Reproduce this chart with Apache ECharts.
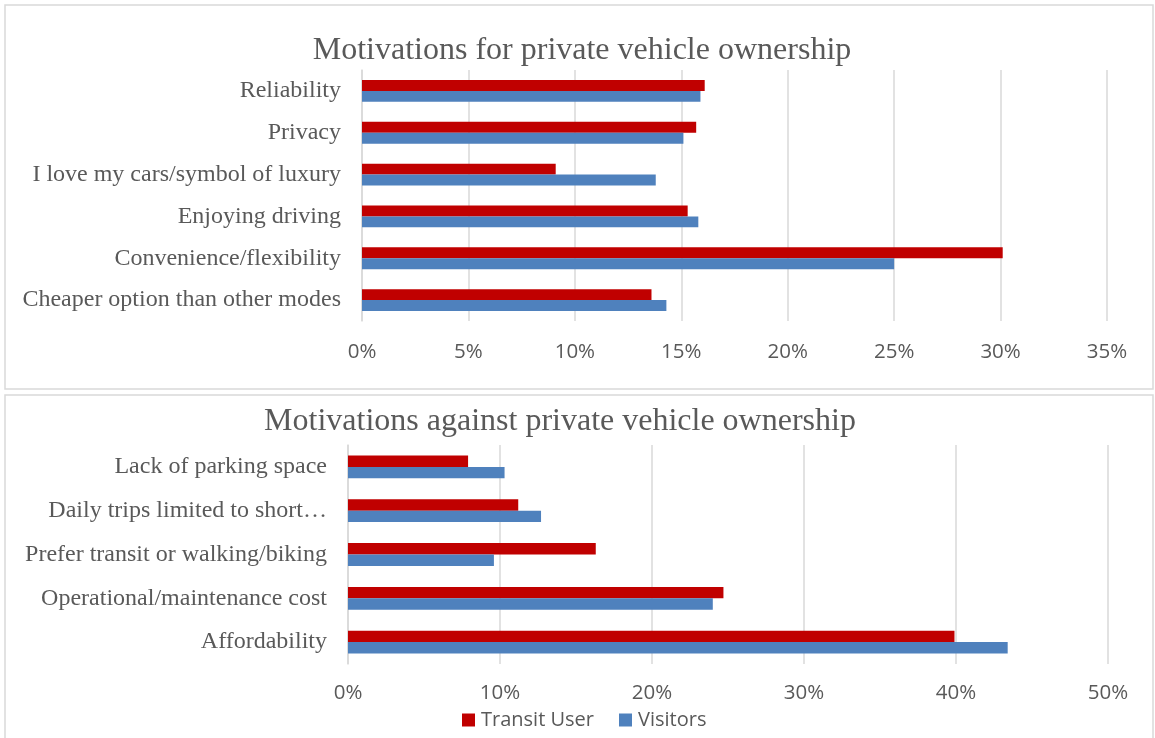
<!DOCTYPE html>
<html>
<head>
<meta charset="utf-8">
<script src="https://cdn.jsdelivr.net/npm/echarts@6/dist/echarts.min.js"></script>
<style>
  html, body { margin: 0; padding: 0; background: #fff; }
  #chart { width: 1155px; height: 738px; }
</style>
</head>
<body>
<div id="chart"></div>
<script>
// Motivations for private vehicle ownership (percent of respondents)
const forCategories = [
  'Reliability',
  'Privacy',
  'I love my cars/symbol of luxury',
  'Enjoying driving',
  'Convenience/flexibility',
  'Cheaper option than other modes'
];
const forTransit = [16.1, 15.7, 9.1, 15.3, 30.1, 13.6];
const forVisitors = [15.9, 15.1, 13.8, 15.8, 25.0, 14.3];

// Motivations against private vehicle ownership (percent of respondents)
const againstCategories = [
  'Lack of parking space',
  'Daily trips limited to short\u2026',
  'Prefer transit or walking/biking',
  'Operational/maintenance cost',
  'Affordability'
];
const againstTransit = [7.9, 11.2, 16.3, 24.7, 39.9];
const againstVisitors = [10.3, 12.7, 9.6, 24.0, 43.4];

const seriesNames = ['Transit User', 'Visitors'];
const colors = ['#C00000', '#4F81BD'];

const textGray = '#595959';
const gridGray = '#d9d9d9';
const serif = '"Liberation Serif", "Times New Roman", serif';
const sans = '"Open Sans", "Liberation Sans", sans-serif';

function valueAxis(gridIndex, max, interval, margin) {
  return {
    type: 'value', gridIndex, min: 0, max, interval,
    axisLine: { show: false }, axisTick: { show: false },
    splitLine: { lineStyle: { color: gridGray, width: 1.5 } },
    axisLabel: { formatter: '{value}%', color: textGray, fontFamily: sans, fontSize: 20.5, margin }
  };
}

function categoryAxis(gridIndex, data, margin) {
  return {
    type: 'category', gridIndex, data, inverse: true,
    axisLine: { show: true, lineStyle: { color: gridGray, width: 1.5 } },
    axisTick: { show: false },
    axisLabel: {
      color: textGray, fontFamily: serif, fontSize: 24, margin,
      padding: [2, 0, 0, 0]
    }
  };
}
function barSeries(name, idx, axisIdx, data) {
  return {
    type: 'bar', name, data,
    xAxisIndex: axisIdx, yAxisIndex: axisIdx,
    barGap: '0%', barCategoryGap: '48%',
    itemStyle: { color: colors[idx] },
    emphasis: { disabled: true }
  };
}

const chart = echarts.init(document.getElementById('chart'), null, { renderer: 'canvas' });
chart.setOption({
  animation: false,
  backgroundColor: '#fff',
  color: colors,
  graphic: [
    { type: 'rect', shape: { x: 5, y: 5, width: 1148, height: 384 },
      style: { fill: 'none', stroke: gridGray, lineWidth: 1.5 }, silent: true },
    { type: 'rect', shape: { x: 5, y: 395, width: 1148, height: 370 },
      style: { fill: 'none', stroke: gridGray, lineWidth: 1.5 }, silent: true }
  ],
  title: [
    { text: 'Motivations for private vehicle ownership', left: 577, top: 30, textAlign: 'center',
      textStyle: { color: textGray, fontFamily: serif, fontSize: 32, fontWeight: 'normal' } },
    { text: 'Motivations against private vehicle ownership', left: 555, top: 401, textAlign: 'center',
      textStyle: { color: textGray, fontFamily: serif, fontSize: 32, fontWeight: 'normal' } }
  ],
  legend: {
    data: seriesNames, left: 457, top: 705, icon: 'rect',
    itemWidth: 13, itemHeight: 13, itemGap: 25,
    textStyle: { color: textGray, fontFamily: sans, fontSize: 20, padding: [0, 0, 0, 1] }
  },
  grid: [
    { left: 362, right: 48, top: 70, height: 251 },
    { left: 348, right: 47, top: 445, height: 219 }
  ],
  xAxis: [ valueAxis(0, 35, 5, 21), valueAxis(1, 50, 10, 19) ],
  yAxis: [ categoryAxis(0, forCategories, 21), categoryAxis(1, againstCategories, 21) ],
  series: [
    barSeries(seriesNames[0], 0, 0, forTransit),
    barSeries(seriesNames[1], 1, 0, forVisitors),
    barSeries(seriesNames[0], 0, 1, againstTransit),
    barSeries(seriesNames[1], 1, 1, againstVisitors)
  ]
});
</script>
</body>
</html>
